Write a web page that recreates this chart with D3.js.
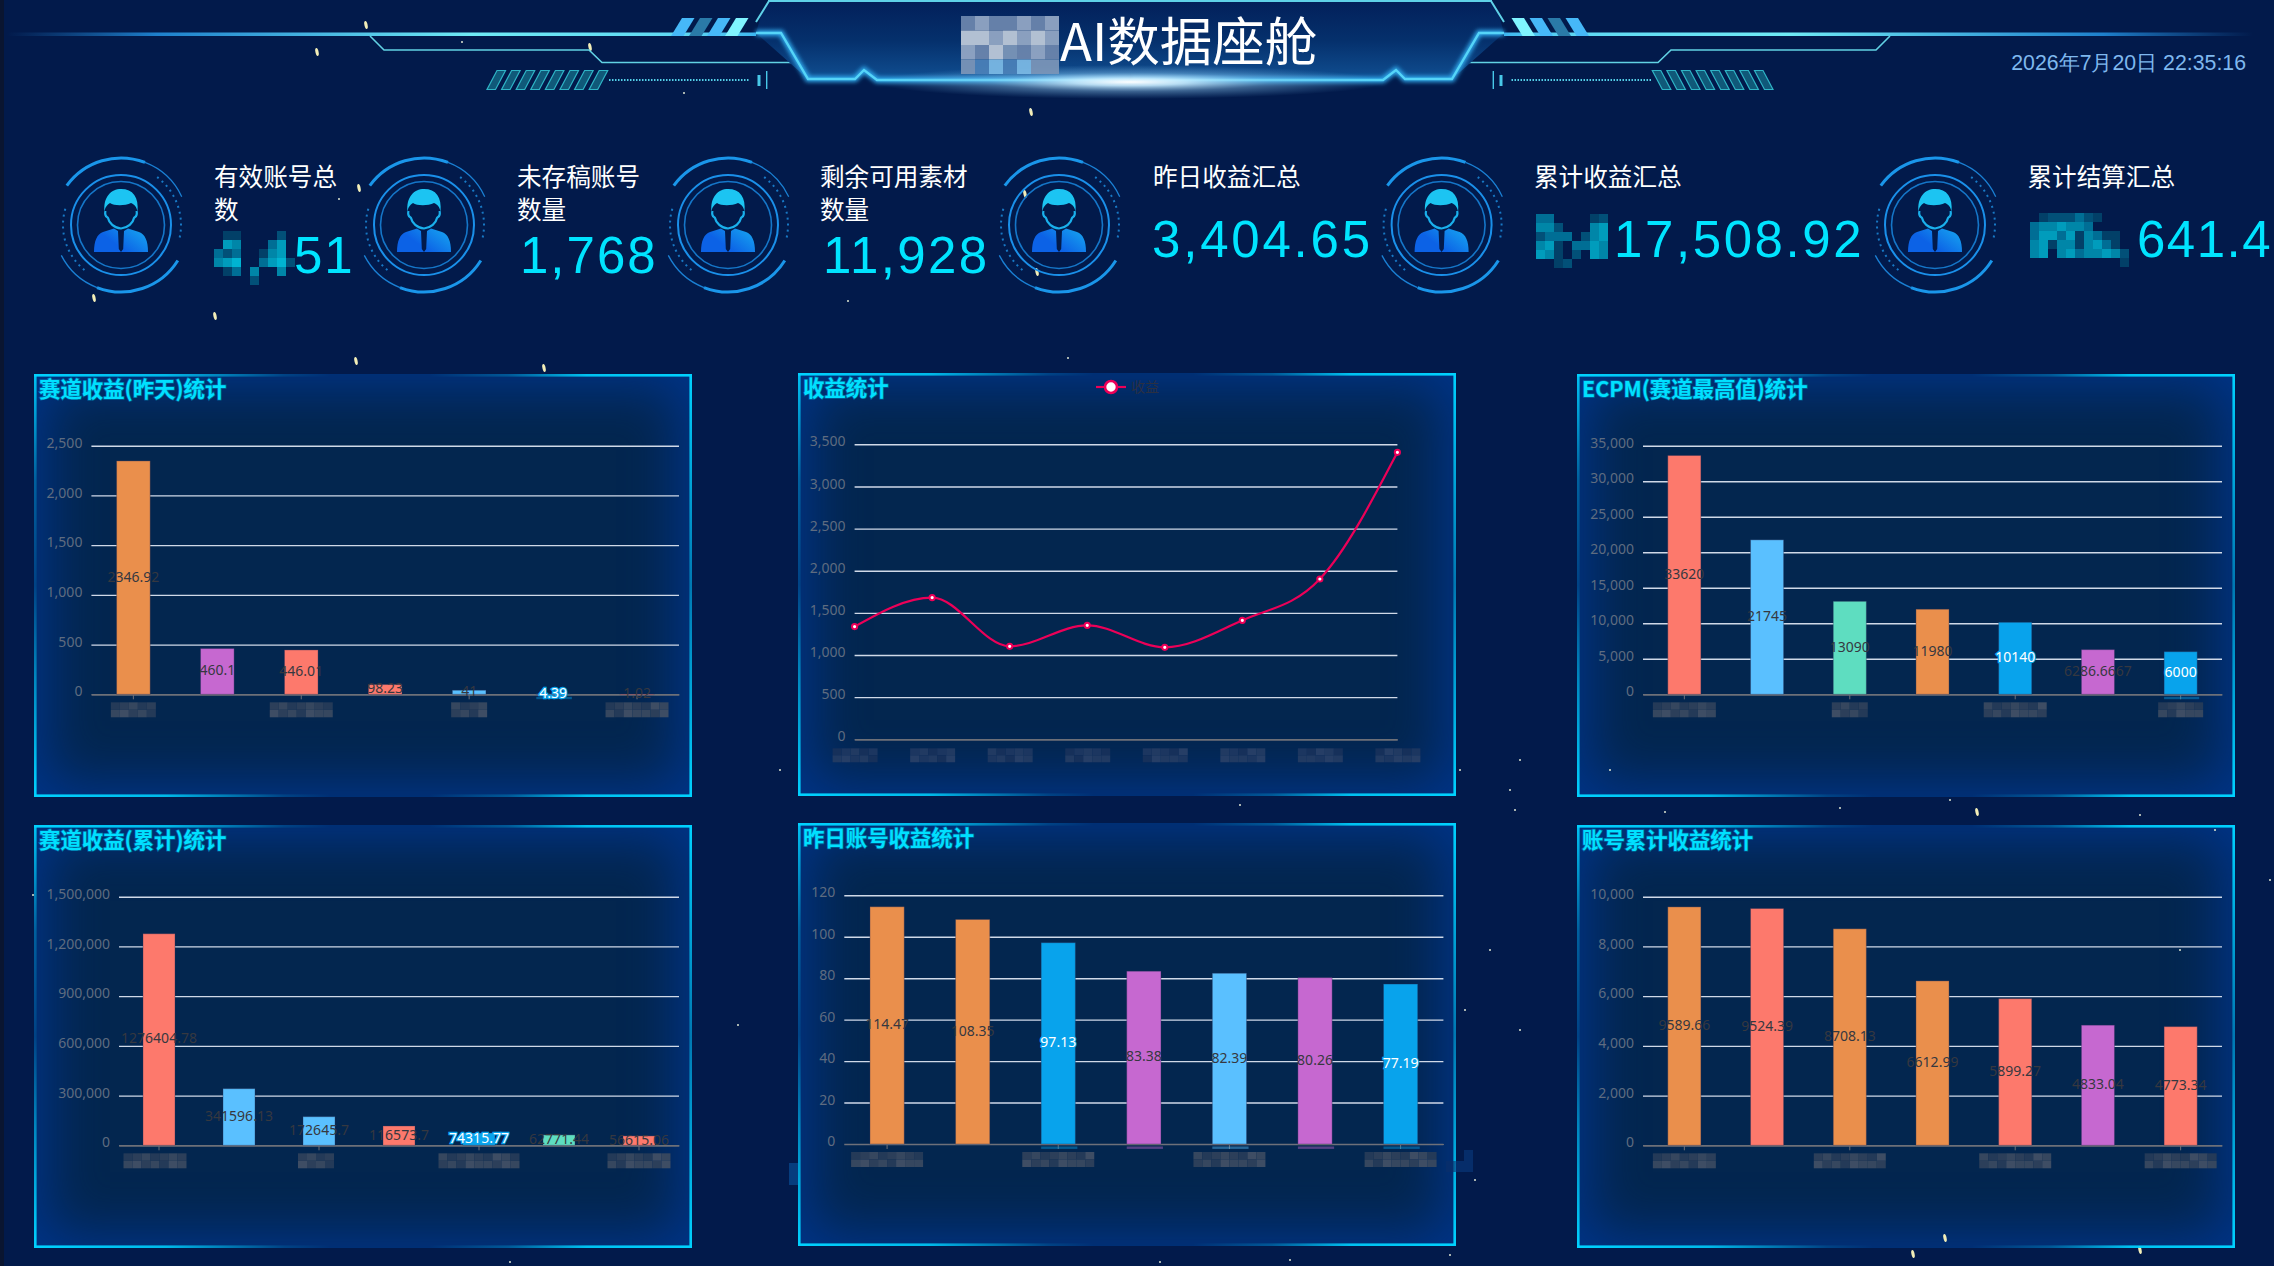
<!DOCTYPE html>
<html lang="zh">
<head>
<meta charset="utf-8">
<title>AI数据座舱</title>
<script src="https://cdn.jsdelivr.net/npm/d3@7/dist/d3.min.js"></script>
<style>
  html, body { margin: 0; padding: 0; width: 2274px; height: 1266px; overflow: hidden; background: #021a4b; }
  .panel { position: absolute; background: #03264f; box-shadow: inset 0 0 52px 14px #003488; }
  svg { position: absolute; left: 0; top: 0; }
  text { font-family: "Noto Sans CJK SC", "Noto Sans", sans-serif; }
  .axis path.domain { stroke: #6e7079; stroke-width: 1.2; }
  .y-axis path.domain { display: none; }
  .y-axis line { stroke: #d0d9e8; stroke-width: 1.4; }
  .y-axis text { fill: #5f6c80; font: 14px "Noto Sans", sans-serif; }
  .x-axis line { stroke: #6e7079; }
</style>
</head>
<body>
<script>
// ---- series ----
const trackDayNames = ["赛道1", "赛道2", "赛道3", "赛道4", "赛道5", "赛道6", "赛道7"];
const trackDayValues = [2346.92, 460.1, 446.01, 98.23, 41, 4.39, 1.02];
const ecpmNames = ["赛道1", "赛道2", "赛道3", "赛道4", "赛道5", "赛道6", "赛道7"];
const ecpmValues = [33620, 21745, 13090, 11980, 10140, 6286.6667, 6000];
const trackTotalNames = ["赛道1", "赛道2", "赛道3", "赛道4", "赛道5", "赛道6", "赛道7"];
const trackTotalValues = [1276404.78, 341596.13, 172645.7, 116573.7, 74315.77, 62771.44, 56615.06];
const accountDayNames = ["账号1", "账号2", "账号3", "账号4", "账号5", "账号6", "账号7"];
const accountDayValues = [114.47, 108.35, 97.13, 83.38, 82.39, 80.26, 77.19];
const accountTotalNames = ["账号1", "账号2", "账号3", "账号4", "账号5", "账号6", "账号7"];
const accountTotalValues = [9589.66, 9524.39, 8708.13, 6612.99, 5899.27, 4833.04, 4773.34];
const revenueDays = ["d1", "d2", "d3", "d4", "d5", "d6", "d7", "d8"];
const revenueValues = [1337, 1681, 1103, 1352, 1091, 1412, 1902, 3404.65];

// ---- axis ticks ----
const ticksTrackDay = [0, 500, 1000, 1500, 2000, 2500];
const ticksRevenue = [0, 500, 1000, 1500, 2000, 2500, 3000, 3500];
const ticksEcpm = [0, 5000, 10000, 15000, 20000, 25000, 30000, 35000];
const ticksTrackTotal = [0, 300000, 600000, 900000, 1200000, 1500000];
const ticksAccountDay = [0, 20, 40, 60, 80, 100, 120];
const ticksAccountTotal = [0, 2000, 4000, 6000, 8000, 10000];

// ---- palette ----
const ORANGE = "#ea8f4c", PURPLE = "#c668d0", SALMON = "#fd796c", SKY = "#5ac0ff", TEAL = "#5eddc0", BLUE = "#08a3ec";
const trackDayColors = [ORANGE, PURPLE, SALMON, SALMON, SKY, BLUE, SALMON];
const ecpmColors = [SALMON, SKY, TEAL, ORANGE, BLUE, PURPLE, BLUE];
const trackTotalColors = [SALMON, SKY, SKY, SALMON, BLUE, TEAL, SALMON];
const accountDayColors = [ORANGE, ORANGE, BLUE, PURPLE, SKY, PURPLE, BLUE];
const accountTotalColors = [ORANGE, SALMON, ORANGE, ORANGE, SALMON, PURPLE, SALMON];

// ---- headline figures ----
const kpiLabels = [["有效账号总", "数"], ["未存稿账号", "数量"], ["剩余可用素材", "数量"], ["昨日收益汇总"], ["累计收益汇总"], ["累计结算汇总"]];
const kpiValues = ["51", "1,768", "11,928", "3,404.65", "17,508.92", "641.4"];

const svg = d3.select("body").append("svg").attr("width", 2274).attr("height", 1266);
const defs = svg.append("defs");

function gradient(id, stops, x2 = 1, y2 = 0) {
  const g = defs.append("linearGradient").attr("id", id).attr("x1", 0).attr("y1", 0).attr("x2", x2).attr("y2", y2);
  stops.forEach(([o, c, a = 1]) => g.append("stop").attr("offset", o).attr("stop-color", c).attr("stop-opacity", a));
}
const CY = "#00d2ff";
const edgeStops = [[0, CY], [.2, CY, .85], [.38, CY, .12], [.45, CY, 0], [.6, CY, 0], [.72, CY, .25], [.84, CY, .9], [1, CY]];
gradient("edgeH", edgeStops);
gradient("edgeV", [[0, CY, .9], [.25, CY, .3], [.5, CY, .12], [.72, CY, .55], [1, CY]], 0, 1);
gradient("edgeVR", [[0, CY], [.5, CY, .45], [1, CY]], 0, 1);
gradient("headFill", [[0, "#03205a"], [.5, "#05306c"], [1, "#104f92"]], 0, 1);
gradient("ruleFill", [[0, "#1b6fb8", 0], [.2, "#1e80cc"], [.62, "#6feaf5"], [.9, "#5fd8f2"], [1, "#3fb8f0"]]);
gradient("personFill", [[0, "#0c62e6"], [1, "#1bc4f5"]], 1, -.6);
const haze = defs.append("radialGradient").attr("id", "haze");
[[0, "#ffffff", 1], [.22, "#c8ecff", .9], [.55, "#8cc8f0", .42], [1, "#6ab0e0", 0]].forEach(([o, c, a]) =>
  haze.append("stop").attr("offset", o).attr("stop-color", c).attr("stop-opacity", a));
defs.append("filter").attr("id", "softGlow").attr("x", "-20%").attr("y", "-40%").attr("width", "140%").attr("height", "180%")
  .append("feGaussianBlur").attr("stdDeviation", 2.2);

// Pixelated patches: each row is a string whose characters index a tone list.
function mosaic(parent, x, y, cw, ch, rows, tones, opacity = 1) {
  const g = parent.append("g").attr("opacity", opacity);
  rows.forEach((row, r) => [...row].forEach((c, i) => {
    if (c === ".") return;
    g.append("rect").attr("x", x + i * cw).attr("y", y + r * ch).attr("width", cw).attr("height", ch).attr("fill", tones[+c]);
  }));
}

// ---- backdrop specks ----
const specksLarge = [[317, 52], [366, 25], [590, 47], [94, 298], [215, 316], [359, 188], [1025, 194], [1037, 272], [1031, 112], [356, 361], [544, 368], [1913, 1254], [1945, 1238], [1977, 812], [2140, 1250]];
const specksSmall = [[462, 42], [684, 93], [339, 199], [1031, 110], [848, 301], [1068, 358], [780, 770], [1520, 760], [1460, 770], [1510, 790], [1515, 810], [1610, 770], [1950, 800], [2215, 830], [2270, 880], [2180, 950], [1490, 950], [1465, 1010], [1520, 1030], [738, 1025], [1475, 1180], [1450, 1255], [1290, 1260], [1665, 812], [1840, 808], [1240, 805], [33, 895], [2140, 815], [1160, 1262], [510, 1262]];
svg.selectAll(".speckL").data(specksLarge).join("ellipse").attr("cx", d => d[0]).attr("cy", d => d[1]).attr("rx", 1.6).attr("ry", 4)
  .attr("transform", d => `rotate(-12 ${d[0]} ${d[1]})`).attr("fill", "#f3eeb8");
svg.selectAll(".speckS").data(specksSmall).join("circle").attr("cx", d => d[0]).attr("cy", d => d[1]).attr("r", 1).attr("fill", "#dfe6d0");
svg.append("rect").attr("width", 4).attr("height", 1266).attr("fill", "#0a1530");

// ---- header ----
const header = svg.append("g");
const shapeHalf = [[769, 1], [1130, 1], [1130, 80], [877, 80], [864, 70], [855, 79], [808, 79], [756, 33], [762, 12]];
const frontEdge = [[756, 33], [781, 33], [808, 79], [855, 79], [864, 70], [877, 80], [1130, 80]];

function headerSide(g) {
  g.append("path").attr("d", "M7,32.5H756V36H7Z").attr("fill", "url(#ruleFill)");
  // diagonal strips against the title plate
  d3.range(4).forEach(i => {
    const x = 682 + 18 * i;
    g.append("path").attr("d", `M${x},18h12.5l-11,18h-12.5Z`).attr("fill", ["#46b8f8", "#2a7aa8", "#46b8f8", "#80f4ff"][i]);
  });
  g.append("path").attr("d", "M370,36L384,50H589L602,62.5H794").attr("fill", "none").attr("stroke", "#62d2e4").attr("stroke-width", 1.6);
  // hatch block and dotted lead-in
  d3.range(8).forEach(i => {
    const x = 497 + 14.6 * i;
    g.append("path").attr("d", `M${x},70.5h8.5l-10,19h-8.5Z`).attr("fill", "#1d8ea0").attr("fill-opacity", .55).attr("stroke", "#2fb4c6").attr("stroke-width", 1.2);
  });
  g.append("line").attr("x1", 609).attr("x2", 750).attr("y1", 80).attr("y2", 80).attr("stroke", "#55d0e8").attr("stroke-width", 2).attr("stroke-dasharray", "1.5 1.5");
  g.append("rect").attr("x", 757.5).attr("y", 75).attr("width", 3).attr("height", 11).attr("fill", "#48c8e8");
  g.append("rect").attr("x", 766).attr("y", 71).attr("width", 1.4).attr("height", 18).attr("fill", "#48c8e8");
  // title plate
  g.append("polygon").attr("points", shapeHalf.map(p => p.join(",")).join(" ")).attr("fill", "url(#headFill)");
  g.append("path").attr("d", "M768,1H1130M769,1L756,22").attr("fill", "none").attr("stroke", "#5fd2e8").attr("stroke-width", 2);
  g.append("path").attr("d", d3.line()(frontEdge)).attr("fill", "none").attr("stroke", "#2fa8ec").attr("stroke-width", 6).attr("filter", "url(#softGlow)");
  g.append("path").attr("d", d3.line()(frontEdge)).attr("fill", "none").attr("stroke", "#55d4f8").attr("stroke-width", 2.4);
}
headerSide(header.append("g"));
headerSide(header.append("g").attr("transform", "translate(2260,0) scale(-1,1)"));
header.append("ellipse").attr("cx", 1130).attr("cy", 82).attr("rx", 255).attr("ry", 17).attr("fill", "url(#haze)");

mosaic(header, 961, 16, 14, 14.5, ["1211212", "3323232", "2134121", "4565644"],
  ["#3a5a8a", "#6b85ad", "#92a6c4", "#bcc8d8", "#7a95b8", "#4a80b8", "#7ab8e4"], .95);
header.append("text").attr("x", 1060).attr("y", 61).attr("fill", "#fff").attr("font-size", 52.5).text("AI数据座舱");
header.append("text").attr("x", 2246).attr("y", 70).attr("text-anchor", "end").attr("fill", "#7fb8ee")
  .style("font-family", "Liberation Sans").attr("font-size", 21.3).text("2026年7月20日 22:35:16");

// ---- headline row ----
const iconCentres = [121, 424, 728, 1059, 1441.6, 1935];
const labelX = [214, 517, 820, 1153, 1534, 2027.5];
const valueX = [294, 520, 823, 1152, 1614, 2137];
const valueBase = [273, 273, 273, 257, 257, 257];
const valueSpacing = [2, 2, 2.4, 2.8, 2.6, 1.5];
const R = Math.PI / 180;

function arcLine(r, a0, a1) {
  const p = d3.path();
  p.arc(0, 0, r, (a0 - 90) * R, (a1 - 90) * R);
  return p.toString();
}
function person(cx) {
  const g = svg.append("g").attr("transform", `translate(${cx},225)`);
  const ring = (r, w, c) => g.append("circle").attr("r", r).attr("fill", "none").attr("stroke", c).attr("stroke-width", w);
  ring(50, 2, "#1a90ea");
  ring(43.5, 1.6, "#1576c8");
  const stroke = (a0, a1, r, w, c, dash) => {
    const s = g.append("path").attr("d", arcLine(r, a0, a1)).attr("fill", "none").attr("stroke", c).attr("stroke-width", w);
    if (dash) s.attr("stroke-dasharray", dash);
  };
  stroke(-54, 21, 67, 3, "#1a96ea");
  stroke(21, 65, 67, 1.3, "#1a80d4");
  stroke(122, 201, 67, 3, "#1a96ea");
  stroke(201, 243, 67, 1.3, "#1a80d4");
  stroke(37, 104, 60, 2, "#1878c4", "2 4");
  stroke(219, 288, 58, 2, "#1878c4", "2 4");
  g.append("path").attr("d", "M-27,27C-27,16 -24,9 -18,7L-7,3.5L-3,6L-2.2,24L0,27L2.2,24L3,6L7,3.5L18,7C24,9 27,16 27,27Z").attr("fill", "url(#personFill)");
  g.append("path").attr("d", "M-2,5H2L1.2,8H-1.2Z").attr("fill", "#021a4b");
  g.append("path").attr("d", "M-16.5,-13C-18,-28 -10,-36 0,-36C12,-36 18,-28 16.5,-13C16,-18 13,-21 10,-22C4,-19 -7,-19 -11,-22C-14,-20 -16,-18 -16.5,-13Z").attr("fill", "#1cc4f2");
  g.append("path").attr("d", "M-15.5,-14C-17,-9 -14,-8 -13,-7C-12,-2 -7,3 0,3.5C7,3 12,-2 13,-7C14,-8 17,-9 15.5,-14").attr("fill", "#021a4b").attr("stroke", "#1ab0ec").attr("stroke-width", 2.2);
}
iconCentres.forEach(person);

kpiLabels.forEach((lines, i) => {
  lines.forEach((t, k) => svg.append("text").attr("x", labelX[i]).attr("y", 186 + k * 33).attr("fill", "#fff").attr("font-size", 24.6).text(t));
  svg.append("text").attr("x", valueX[i]).attr("y", valueBase[i]).attr("fill", "#00e4ff")
    .style("font-family", "Liberation Sans").attr("font-size", 51).attr("letter-spacing", valueSpacing[i]).text(kpiValues[i]);
});
const tealTones = ["#024068", "#025078", "#006e95", "#0086a8", "#009cbc", "#00b4d2"];
mosaic(svg, 214, 231, 9, 9, [".00....1.", ".43...24.", "212..034.", "345..2451", ".02.3..3.", "....1...."], tealTones);
mosaic(svg, 1536, 214, 9, 9, ["22....01", "331...34", "1222.134", "340.2243", "430.1.43", "..01...."], tealTones);
mosaic(svg, 2030, 213, 9, 9, [".0111210...", "2334332....", "2442403200.", "3403303420.", "34.34233431", "..........0"], tealTones);

// ---- chart panels ----
const slateTones = ["#243a58", "#2c3f5a", "#36475f", "#3e4d64"];
const dimTones = ["#16305a", "#1c3660", "#213a62", "#263e66"];
const labelPattern = ["0120121032", "2312032213"];

function panelFrame(x, y, w, h, title) {
  d3.select("body").insert("div", "svg").attr("class", "panel")
    .style("left", x + "px").style("top", y + "px").style("width", w + "px").style("height", h + "px");
  const g = svg.append("g").attr("transform", `translate(${x},${y})`);
  g.append("rect").attr("width", w).attr("height", 2.6).attr("fill", "url(#edgeH)");
  g.append("rect").attr("y", h - 2.6).attr("width", w).attr("height", 2.6).attr("fill", "url(#edgeH)");
  g.append("rect").attr("width", 2.6).attr("height", h).attr("fill", "url(#edgeV)");
  g.append("rect").attr("x", w - 2.6).attr("width", 2.6).attr("height", h).attr("fill", "url(#edgeVR)");
  g.append("text").attr("x", 5).attr("y", 22.5).attr("fill", "#00e0ff").attr("font-size", 21.4).attr("font-weight", 700)
    .style("paint-order", "stroke").attr("stroke", "#00c4f0").attr("stroke-opacity", .35).attr("stroke-width", 1.6).text(title);
}

function styleYAxis(sel, axis) {
  sel.attr("class", "axis y-axis").call(axis);
  sel.selectAll("text").attr("dy", "0.12em");
  sel.selectAll(".tick").filter(d => d === 0).select("line").style("stroke", "#6e7079");
}

function barChart(o) {
  panelFrame(o.x, o.y, 658, 423, o.title);
  const x = d3.scaleBand().domain(o.names).range([o.left, o.right]);
  const y = d3.scaleLinear().domain([0, o.ticks[o.ticks.length - 1]]).range([o.zero, o.top]);
  const g = svg.append("g");

  g.append("g").attr("transform", `translate(${o.left},0)`).call(sel => styleYAxis(sel,
    d3.axisLeft(y).tickValues(o.ticks).tickFormat(d3.format(",")).tickSize(-(o.right - o.left)).tickPadding(9)));

  const shown = o.names.filter((_, i) => i % 2 === 0);
  g.append("g").attr("class", "axis x-axis").attr("transform", `translate(0,${o.zero})`)
    .call(d3.axisBottom(x).tickValues(shown).tickSize(5).tickSizeOuter(0).tickFormat(""));

  const barW = x.bandwidth() * .4;
  const rows = o.names.map((n, i) => ({ n, v: o.values[i], c: o.colors[i] }));
  g.selectAll(".bar").data(rows).join("rect")
    .attr("x", d => x(d.n) + (x.bandwidth() - barW) / 2).attr("width", barW)
    .attr("y", d => y(d.v)).attr("height", d => Math.max(o.zero - y(d.v), .5))
    .attr("fill", d => d.c).attr("stroke", "#2a2f55").attr("stroke-opacity", .35);

  // obscured category names
  shown.forEach((n, i) => {
    const cells = o.labelCells[i];
    const rowsOut = labelPattern.map(r => (r + r).slice(i, i + cells));
    mosaic(g, x(n) + x.bandwidth() / 2 - cells * 4.5 + (o.labelShift ? o.labelShift[i] : 0), o.zero + 8, 9, 7.5, rowsOut, slateTones);
  });
  (o.smears || []).forEach(i => g.append("rect")
    .attr("x", x(o.names[i]) + (x.bandwidth() - barW) / 2).attr("y", o.zero + 2.5).attr("width", barW + 2).attr("height", 2.4)
    .attr("fill", o.colors[i]).attr("opacity", .42));

  g.selectAll(".val").data(rows).join("text")
    .attr("x", d => x(d.n) + x.bandwidth() / 2)
    .attr("y", d => (y(d.v) + o.zero) / 2 - 1).attr("dy", "0.35em").attr("text-anchor", "middle")
    .style("font-family", "Noto Sans").attr("font-size", 14)
    .attr("fill", d => d.c === BLUE ? "#fff" : "#363840")
    .attr("stroke", d => d.c === BLUE ? BLUE : "none").attr("stroke-width", 2.4).style("paint-order", "stroke")
    .text(d => d.v);
}

barChart({ x: 34, y: 374, title: "赛道收益(昨天)统计", names: trackDayNames, values: trackDayValues, colors: trackDayColors, ticks: ticksTrackDay,
  left: 91.4, right: 679, top: 445.7, zero: 694.3, labelCells: [5, 7, 4, 7], smears: [5] });
barChart({ x: 1577, y: 374, title: "ECPM(赛道最高值)统计", names: ecpmNames, values: ecpmValues, colors: ecpmColors, ticks: ticksEcpm,
  left: 1643, right: 2222, top: 445.7, zero: 694.3, labelCells: [7, 4, 7, 5], smears: [6] });
barChart({ x: 34, y: 825, title: "赛道收益(累计)统计", names: trackTotalNames, values: trackTotalValues, colors: trackTotalColors, ticks: ticksTrackTotal,
  left: 119, right: 679, top: 896.7, zero: 1145.3, labelCells: [7, 4, 9, 7], labelShift: [-4, -3, 0, 0] });
barChart({ x: 798, y: 823, title: "昨日账号收益统计", names: accountDayNames, values: accountDayValues, colors: accountDayColors, ticks: ticksAccountDay,
  left: 844.3, right: 1443.4, top: 895.3, zero: 1144, labelCells: [8, 8, 8, 8], smears: [2, 3, 4, 5, 6] });
barChart({ x: 1577, y: 825, title: "账号累计收益统计", names: accountTotalNames, values: accountTotalValues, colors: accountTotalColors, ticks: ticksAccountTotal,
  left: 1643, right: 2222, top: 896.7, zero: 1145.3, labelCells: [7, 8, 8, 8] });

// revenue trend
(function lineChart() {
  panelFrame(798, 373, 658, 423, "收益统计");
  const left = 854.6, right = 1397.4, top = 444.3, zero = 739.3;
  const x = d3.scalePoint().domain(revenueDays).range([left, right]);
  const y = d3.scaleLinear().domain([0, 3500]).range([zero, top]);
  const g = svg.append("g");
  g.append("g").attr("transform", `translate(${left},0)`).call(sel => styleYAxis(sel,
    d3.axisLeft(y).tickValues(ticksRevenue).tickFormat(d3.format(",")).tickSize(-(right - left)).tickPadding(9)));
  g.append("g").attr("class", "axis x-axis").attr("transform", `translate(0,${zero})`)
    .call(d3.axisBottom(x).tickSize(0).tickFormat(""));
  revenueDays.forEach((d, i) => {
    const rows = labelPattern.map(r => (r + r).slice(i, i + 5));
    mosaic(g, x(d) - 22, zero + 9, 9, 7, rows, dimTones);
  });
  const trend = d3.line().x((_, i) => x(revenueDays[i])).y(d => y(d)).curve(d3.curveMonotoneX);
  g.append("path").attr("d", trend(revenueValues)).attr("fill", "none").attr("stroke", "#ec0058").attr("stroke-width", 2.2);
  g.selectAll(".pt").data(revenueValues).join("circle")
    .attr("cx", (_, i) => x(revenueDays[i])).attr("cy", d => y(d)).attr("r", 2.6)
    .attr("fill", "#fff").attr("stroke", "#ee0058").attr("stroke-width", 2);
  // legend
  g.append("line").attr("x1", 1096).attr("x2", 1126).attr("y1", 387).attr("y2", 387).attr("stroke", "#ec0058").attr("stroke-width", 2.2);
  g.append("circle").attr("cx", 1111).attr("cy", 387).attr("r", 6).attr("fill", "#fff").attr("stroke", "#ec0058").attr("stroke-width", 2.6);
  g.append("text").attr("x", 1131).attr("y", 392).attr("fill", "#2a3042").attr("font-size", 14).text("收益");
})();

// stray smudges beside the account panel
mosaic(svg, 789, 1163, 9, 11, ["1.", "1."], ["#0a4a8c", "#0a55a0"], .6);
mosaic(svg, 1446, 1150, 9, 11, ["..1", "011"], ["#0b2f6a", "#0a3a80"], .6);
</script>
</body>
</html>
